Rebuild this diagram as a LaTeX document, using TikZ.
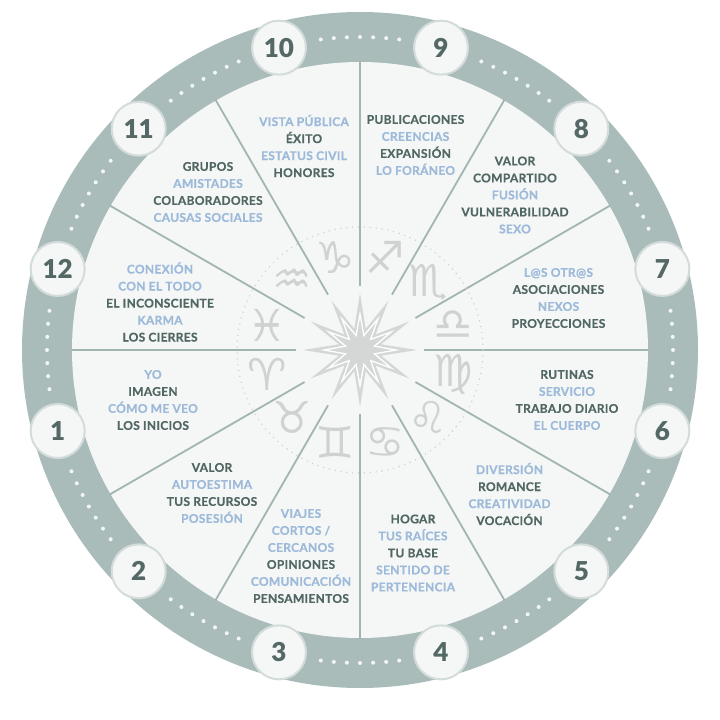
\documentclass[tikz,border=0pt]{standalone}
\usepackage{fontspec}
\setmainfont{Lato}
\IfFontExistsTF{Lato Bold}
  {\newfontfamily\labf{Lato Bold}[LetterSpace=2.5,FakeBold=0.6]}
  {\newfontfamily\labf{Lato}[LetterSpace=2.5,FakeBold=1.5]}
\IfFontExistsTF{Lato Black}
  {\newfontfamily\numf{Lato Black}}
  {\newfontfamily\numf{Lato}[FakeBold=2.5]}
\newfontfamily\symf{DejaVu Sans}
\usetikzlibrary{shapes.geometric}
\definecolor{ringc}{HTML}{A9BCBA}
\definecolor{discc}{HTML}{F5F6F6}
\definecolor{spokec}{HTML}{A2B5B2}
\definecolor{darkc}{HTML}{506763}
\definecolor{lbluec}{HTML}{9DBADA}
\definecolor{numc}{HTML}{546966}
\definecolor{numedge}{HTML}{D3DCDB}
\definecolor{symc}{HTML}{D0D2D2}
\definecolor{starc}{HTML}{D5D7D7}
\definecolor{dotc}{HTML}{F3F6F6}
\newcommand{\bluetx}[1]{\textcolor{lbluec}{#1}}
\newcommand{\darktx}[1]{\textcolor{darkc}{#1}}
\tikzset{
  housetxt/.style={align=center, inner sep=0pt, font={\labf\fontsize{12}{17}\selectfont}},
  numcirc/.style={circle, fill=discc, draw=numedge, line width=2pt, minimum size=54pt, inner sep=0pt,
    font={\numf\fontsize{26}{26}\selectfont}, text=numc},
  zod/.style={text=symc, font={\symf\fontsize{44}{44}\selectfont}, inner sep=0pt},
  spokeline/.style={draw=spokec, line width=1.8pt},
  ringdot/.style={fill=dotc},
}
\begin{document}
\begin{tikzpicture}[x=1pt,y=1pt]
\useasboundingbox (0,0) rectangle (720,720);
\fill[white] (0,0) rectangle (720,720);
\begin{scope}[shift={(360,370)}]
  % ring and disc
  \fill[ringc] (0,0) circle (338);
  \fill[discc] (0,0) circle (288);
  % spokes
  \foreach \a in {0,30,...,330} \draw[spokeline] (\a:64) -- (\a:289);
  % dotted inner circle
  \draw[symc, line width=1.6pt, line cap=round, dash pattern=on 0pt off 5.9pt] (0,0) circle (123);
  % star
  \node[star, star points=12, star point ratio=2.6, minimum size=114pt, fill=starc, inner sep=0pt] (star) at (0,0) {};
  \node[star, star points=12, star point ratio=2.4, minimum size=72pt, draw=white, line width=1.3pt, inner sep=0pt] (star2) at (0,0) {};
  % zodiac
  \foreach \a/\s [count=\i] in {195/♈,225/♉,255/♊,285/♋,315/♌,345/♍,15/♎,45/♏,75/♐,105/♑,135/♒,165/♓}
    \node[zod] (z\i) at (\a:96) {\s};
  % ring dots
  \foreach \b in {15,45,...,345}
    \foreach \i in {-3,...,3}
      \fill[ringdot] ({\b+15+2.4*\i}:313) circle (2);
  % number circles
  \foreach \k in {1,...,12}
    \node[numcirc] (n\k) at ({165+30*\k}:313) {\k};
  % house texts
  \node[housetxt] (h10) at (-56,204) {\bluetx{VISTA PÚBLICA}\\\darktx{ÉXITO}\\\bluetx{ESTATUS CIVIL}\\\darktx{HONORES}};
  \node[housetxt] (h11) at (-152,158) {\darktx{GRUPOS}\\\bluetx{AMISTADES}\\\darktx{COLABORADORES}\\\bluetx{CAUSAS SOCIALES}};
  \node[housetxt] (h12) at (-200,48) {\bluetx{CONEXIÓN}\\\bluetx{CON EL TODO}\\\darktx{EL INCONSCIENTE}\\\bluetx{KARMA}\\\darktx{LOS CIERRES}};
  \node[housetxt] (h1) at (-207,-50) {\bluetx{YO}\\\darktx{IMAGEN}\\\bluetx{CÓMO ME VEO}\\\darktx{LOS INICIOS}};
  \node[housetxt] (h2) at (-148,-143) {\darktx{VALOR}\\\bluetx{AUTOESTIMA}\\\darktx{TUS RECURSOS}\\\bluetx{POSESIÓN}};
  \node[housetxt] (h3) at (-59,-206) {\bluetx{VIAJES}\\\bluetx{CORTOS /}\\\bluetx{CERCANOS}\\\darktx{OPINIONES}\\\bluetx{COMUNICACIÓN}\\\darktx{PENSAMIENTOS}};
  \node[housetxt] (h4) at (53,-203) {\darktx{HOGAR}\\\bluetx{TUS RAÍCES}\\\darktx{TU BASE}\\\bluetx{SENTIDO DE}\\\bluetx{PERTENENCIA}};
  \node[housetxt] (h5) at (149.5,-144) {\bluetx{DIVERSIÓN}\\\darktx{ROMANCE}\\\bluetx{CREATIVIDAD}\\\darktx{VOCACIÓN}};
  \node[housetxt] (h6) at (207,-50) {\darktx{RUTINAS}\\\bluetx{SERVICIO}\\\darktx{TRABAJO DIARIO}\\\bluetx{EL CUERPO}};
  \node[housetxt] (h7) at (198.5,52) {\bluetx{L@S OTR@S}\\\darktx{ASOCIACIONES}\\\bluetx{NEXOS}\\\darktx{PROYECCIONES}};
  \node[housetxt] (h8) at (155,155) {\darktx{VALOR}\\\darktx{COMPARTIDO}\\\bluetx{FUSIÓN}\\\darktx{VULNERABILIDAD}\\\bluetx{SEXO}};
  \node[housetxt] (h9) at (55.5,205) {\darktx{PUBLICACIONES}\\\bluetx{CREENCIAS}\\\darktx{EXPANSIÓN}\\\bluetx{LO FORÁNEO}};
\end{scope}
\end{tikzpicture}
\end{document}
